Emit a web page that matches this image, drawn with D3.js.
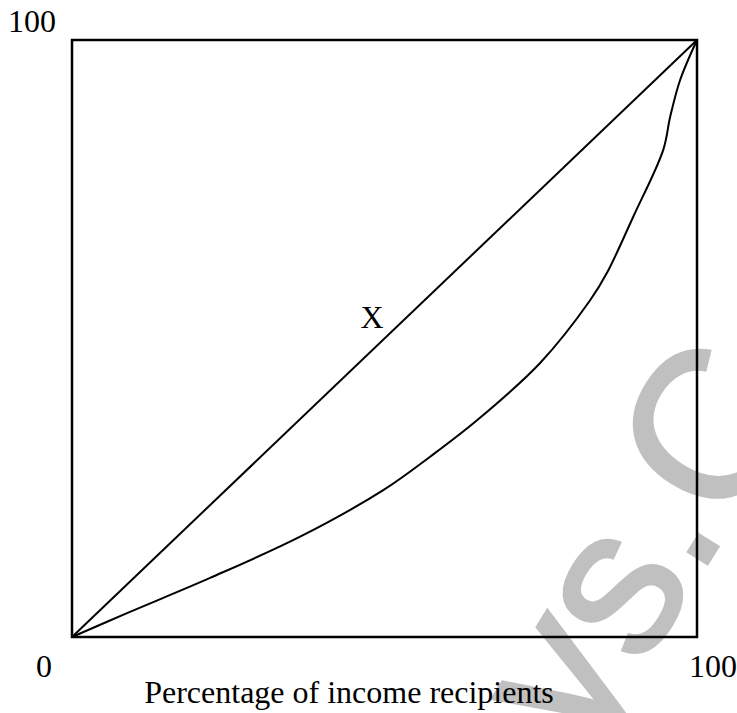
<!DOCTYPE html>
<html><head><meta charset="utf-8">
<script src="https://cdn.jsdelivr.net/npm/d3@7"></script>
<style>body{margin:0;background:#fff}svg{display:block}</style>
</head><body>
<script>
const equality = [[0,0],[100,100]];
const lorenzX = [0, 8.8, 22.1, 36.5, 49.8, 57.3, 64.8, 74.9, 82.9, 85.6, 89.8, 94.6, 95.7, 97.3, 100];
const lorenzY = [0, 4.0, 9.9, 16.8, 24.6, 30.2, 36.3, 45.9, 56.4, 61.0, 70.4, 81.6, 87.1, 93.3, 100];
const tickLabels = ["0", "100"];
const axisTitle = "Percentage of income recipients";
const pointLabel = "X";
const watermark = "ys.C";

const W = 737, H = 713;
const svg = d3.select("body").append("svg").attr("width", W).attr("height", H);
const x = d3.scaleLinear().domain([0,100]).range([72,697]);
const y = d3.scaleLinear().domain([0,100]).range([637,40]);

// watermark (light grey, rotated, behind the chart)
svg.append("text").attr("x",586).attr("y",758)
  .attr("transform","rotate(-58,586,758)")
  .attr("fill","#c0c0c0")
  .style("font-family","Liberation Sans, Arial, sans-serif").style("font-size","210px")
  .style("stroke","#c0c0c0").style("stroke-width","3px")
  .text(watermark);

// box
svg.append("rect").attr("x",x(0)).attr("y",y(100)).attr("width",x(100)-x(0)).attr("height",y(0)-y(100))
  .attr("fill","none").attr("stroke","#000").attr("stroke-width",2.5);

const line = d3.line().x(d=>x(d[0])).y(d=>y(d[1]));
svg.append("path").attr("d", line(equality)).attr("fill","none").attr("stroke","#000").attr("stroke-width",2);
const lorenz = lorenzX.map((v,i)=>[v, lorenzY[i]]);
svg.append("path").attr("d", d3.line().x(d=>x(d[0])).y(d=>y(d[1])).curve(d3.curveCatmullRom.alpha(0.5))(lorenz))
  .attr("fill","none").attr("stroke","#000").attr("stroke-width",2);

const tg = svg.append("g").style("font-family","Liberation Serif, Times New Roman, serif").style("font-size","32px").attr("fill","#000");
tg.append("text").attr("x",32).attr("y",32).attr("text-anchor","middle").text(tickLabels[1]);
tg.append("text").attr("x",44).attr("y",677).attr("text-anchor","middle").text(tickLabels[0]);
tg.append("text").attr("x",713).attr("y",677).attr("text-anchor","middle").text(tickLabels[1]);
tg.append("text").attr("x",349).attr("y",703).attr("text-anchor","middle").text(axisTitle);
tg.append("text").attr("x",372).attr("y",328).attr("text-anchor","middle").text(pointLabel);
</script>
</body></html>
